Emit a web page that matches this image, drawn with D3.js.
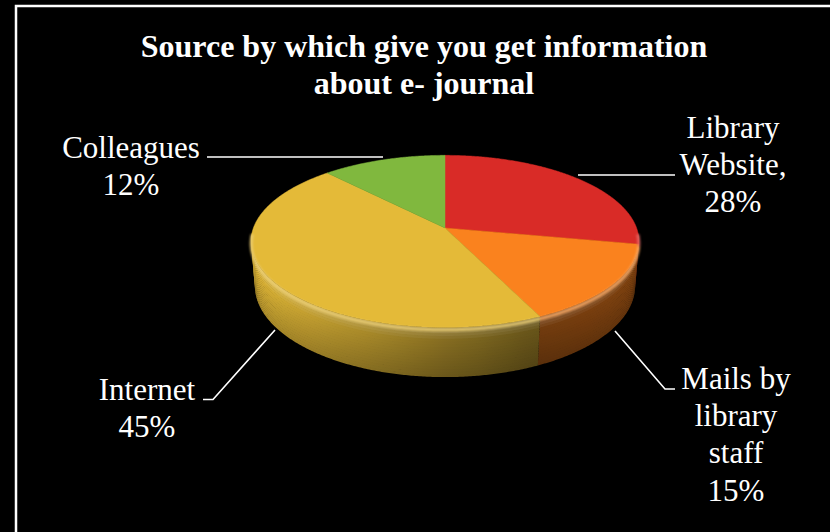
<!DOCTYPE html>
<html>
<head>
<meta charset="utf-8">
<script src="https://cdn.jsdelivr.net/npm/d3@7"></script>
<style>
  html, body { margin: 0; padding: 0; background: #000; }
  svg { display: block; }
</style>
</head>
<body>
<script>
// ---- data ----
const categories = ["Library Website", "Mails by library staff", "Internet", "Colleagues"];
const values = [28, 15, 45, 12];
const sliceColors = ["#D92B27", "#FA821E", "#E4BA38", "#80B83E"];
const labelNameLines = [["Library", "Website,"], ["Mails by", "library", "staff"], ["Internet"], ["Colleagues"]];
const titleLines = ["Source by which give you get information", "about e- journal"];

const W = 830, H = 532;
const svg = d3.select("body").append("svg").attr("width", W).attr("height", H);
svg.append("rect").attr("width", W).attr("height", H).attr("fill", "#000");

// frame
svg.append("rect").attr("x", 16).attr("y", 6).attr("width", 900).attr("height", 700)
  .attr("fill", "none").attr("stroke", "#fff").attr("stroke-width", 2.5);

const defs = svg.append("defs");
const blur = defs.append("filter").attr("id", "blur").attr("x", "-10%").attr("y", "-50%").attr("width", "120%").attr("height", "200%");
blur.append("feGaussianBlur").attr("stdDeviation", 1.3);

// ---- 3D projection ----
const phi = 26 * Math.PI / 180, Dd = 5.76, K = 191.6, CX = 445, CY = 228, HGT = 0.26;
function proj(X, Y, Z) {
  const yc = Z * Math.sin(phi) - Y * Math.cos(phi);
  const d = -Z * Math.cos(phi) - Y * Math.sin(phi);
  const s = 1 / (1 + d / Dd);
  return [CX + K * X * s, CY + K * yc * s];
}
const rim = (t, Y) => proj(Math.sin(t), Y, -Math.cos(t));

const pie = d3.pie().sort(null).value(d => d)(values);
const line = d3.line();
const step = Math.PI / 360;
const deg = Math.PI / 180;

function arcPts(a0, a1, Y) {
  const n = Math.max(2, Math.ceil((a1 - a0) / step));
  return d3.range(n + 1).map(i => rim(a0 + (a1 - a0) * i / n, Y));
}

// side shading as function of angle
function shade(t) {
  let b = 0.52 + 0.45 * Math.cos(t - 262 * deg);
  b = Math.max(0.4, b) + 0.12 * Math.max(0, Math.cos(t - Math.PI / 2));
  return Math.min(1, b);
}

// sides: horizontal strips, each with a horizontal gradient following the angle
const sideG = svg.append("g");
const NB = 18;
const visA0 = 93 * deg, visA1 = 267 * deg;
const xR = rim(97 * deg, 0)[0], xL = rim(263 * deg, 0)[0];
pie.forEach((p, i) => {
  const a0 = Math.max(p.startAngle, visA0), a1 = Math.min(p.endAngle, visA1);
  if (a1 <= a0) return;
  for (let k = 0; k < NB; k++) {
    const f = (k + 0.5) / NB;
    const id = "sg" + i + "_" + k;
    const g = defs.append("linearGradient").attr("id", id).attr("gradientUnits", "userSpaceOnUse")
      .attr("x1", xR).attr("y1", 0).attr("x2", xL).attr("y2", 0);
    for (let s = 0; s <= 40; s++) {
      const t = (97 + (263 - 97) * s / 40) * deg;
      const x = rim(t, 0)[0];
      const base = d3.interpolateRgb("#000", sliceColors[i])(shade(t));
      let col;
      if (f < 0.25) col = d3.interpolateRgb(base, "#fff")(0.22 * (0.25 - f) / 0.25);
      else col = d3.interpolateRgb(base, "#000")(0.2 * (f - 0.25) / 0.75);
      g.append("stop").attr("offset", (x - xR) / (xL - xR)).attr("stop-color", col);
    }
    const y0 = -HGT * k / NB, y1 = -HGT * (k + 1) / NB - (k < NB - 1 ? 0.004 : 0);
    const pts = arcPts(a0, a1, y0).concat(arcPts(a0, a1, y1).reverse());
    sideG.append("path").attr("d", line(pts) + "Z").attr("fill", "url(#" + id + ")");
  }
});

// top faces
const topG = svg.append("g");
pie.forEach((p, i) => {
  const pts = [proj(0, 0, 0)].concat(arcPts(p.startAngle, p.endAngle, 0));
  topG.append("path").attr("d", line(pts) + "Z").attr("fill", sliceColors[i])
    .attr("stroke", sliceColors[i]).attr("stroke-width", 0.5);
});

// bevel highlight on front rim
const hiG = svg.append("g").attr("filter", "url(#blur)");
pie.forEach((p, i) => {
  const a0 = Math.max(p.startAngle, Math.PI / 2 + 0.05), a1 = Math.min(p.endAngle, 1.5 * Math.PI - 0.05);
  if (a1 <= a0) return;
  const pts = arcPts(a0, a1, -0.012);
  hiG.append("path").attr("d", line(pts)).attr("fill", "none")
    .attr("stroke", d3.interpolateRgb(sliceColors[i], "#fff")(0.3)).attr("stroke-width", 3).attr("opacity", 0.85);
});

// ---- title ----
const serif = "'Liberation Serif', 'Times New Roman', serif";
svg.append("g").selectAll("text").data(titleLines).join("text")
  .attr("x", 424).attr("y", (d, i) => 57 + i * 37)
  .attr("text-anchor", "middle").attr("fill", "#fff")
  .attr("font-family", serif).attr("font-weight", "bold").attr("font-size", 32)
  .text(d => d);

// ---- labels ----
const labelPos = [
  { x: 733, y: 138 },
  { x: 736, y: 389 },
  { x: 147, y: 400 },
  { x: 131, y: 158 }
];
const leaders = [
  [[578, 175], [675, 175]],
  [[615, 331], [665, 389], [675, 389]],
  [[275, 330], [213, 399.5], [203, 399.5]],
  [[207, 157], [383, 157]]
];
const lblG = svg.append("g");
categories.forEach((c, i) => {
  const lines = labelNameLines[i].concat([values[i] + "%"]);
  lblG.append("g").selectAll("text").data(lines).join("text")
    .attr("x", labelPos[i].x).attr("y", (d, k) => labelPos[i].y + k * 37.2)
    .attr("text-anchor", "middle").attr("fill", "#fff")
    .attr("font-family", serif).attr("font-size", 31)
    .text(d => d);
  lblG.append("path").attr("d", line(leaders[i])).attr("fill", "none")
    .attr("stroke", "#fff").attr("stroke-width", 1.6);
});
</script>
</body>
</html>
